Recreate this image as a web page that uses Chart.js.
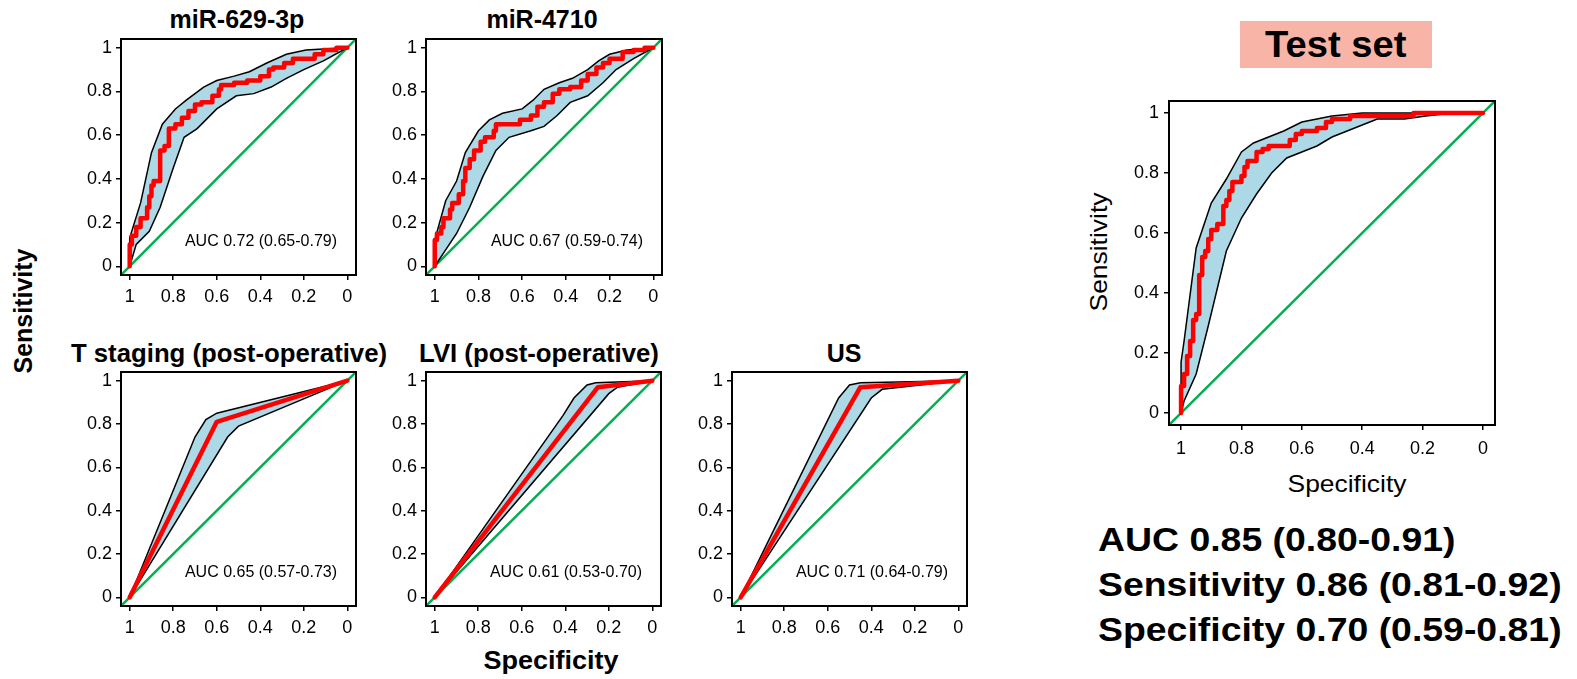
<!DOCTYPE html>
<html>
<head>
<meta charset="utf-8">
<script src="https://cdn.jsdelivr.net/npm/chart.js@4"></script>
<style>
  body { margin: 0; background: #fff; width: 1577px; height: 679px; position: relative; overflow: hidden;
         font-family: "Liberation Sans", Arial, sans-serif; }
  canvas { position: absolute; }
  .t { position: absolute; white-space: nowrap; line-height: 1; color: #000; }
  .b { font-weight: bold; }
  .c { transform: translateX(-50%); }
  .rot { transform: translate(-50%, -50%) rotate(-90deg); }
</style>
</head>
<body>

<div class="t b c" style="left:237px;top:7px;font-size:25px">miR-629-3p</div>
<div class="t b c" style="left:542px;top:7px;font-size:25px">miR-4710</div>
<div class="t b c" style="left:229px;top:341px;font-size:25px;transform:translateX(-50%) scaleX(1.03)">T staging (post-operative)</div>
<div class="t b c" style="left:539px;top:341px;font-size:25px;transform:translateX(-50%) scaleX(1.03)">LVI (post-operative)</div>
<div class="t b c" style="left:844px;top:341px;font-size:25px">US</div>
<div class="t b rot" style="left:23px;top:311px;font-size:25px">Sensitivity</div>
<div class="t b c" style="left:551px;top:648px;font-size:25px;transform:translateX(-50%) scaleX(1.08)">Specificity</div>

<div class="t b" style="left:1240px;top:21px;width:192px;height:47px;line-height:47px;text-align:center;background:#f8b5a7;font-size:36px"><span style="display:inline-block;transform:scaleX(1.06)">Test set</span></div>
<div class="t" style="left:1099px;top:252px;font-size:24px;transform:translate(-50%,-50%) rotate(-90deg) scaleX(1.1)">Sensitivity</div>
<div class="t c" style="left:1347px;top:472px;font-size:24px;transform:translateX(-50%) scaleX(1.1)">Specificity</div>
<div class="t b" style="left:1098px;top:522px;font-size:34px;transform-origin:left;transform:scaleX(1.1)">AUC 0.85 (0.80-0.91)</div>
<div class="t b" style="left:1098px;top:567px;font-size:34px;transform-origin:left;transform:scaleX(1.1)">Sensitivity 0.86 (0.81-0.92)</div>
<div class="t b" style="left:1098px;top:612px;font-size:34px;transform-origin:left;transform:scaleX(1.1)">Specificity 0.70 (0.59-0.81)</div>

<canvas id="c1"></canvas>
<canvas id="c2"></canvas>
<canvas id="c3"></canvas>
<canvas id="c4"></canvas>
<canvas id="c5"></canvas>
<canvas id="c6"></canvas>

<script>
// axis ticks (specificity runs 1 -> 0)
const tickVals = [0, 0.2, 0.4, 0.6, 0.8, 1];
const tickText = ['0', '0.2', '0.4', '0.6', '0.8', '1'];
const diagLine = [[1.04, -0.04], [-0.04, 1.04]];

// [specificity, sensitivity] pairs
const mir629Roc = [[1,0],[1,0.05],[0.99,0.1],[0.97,0.14],[0.95,0.18],[0.92,0.22],[0.91,0.27],[0.9,0.32],[0.89,0.37],
  [0.86,0.39],[0.86,0.5],[0.84,0.53],[0.82,0.55],[0.82,0.61],[0.79,0.63],[0.76,0.65],[0.73,0.68],[0.7,0.71],
  [0.67,0.74],[0.62,0.75],[0.59,0.78],[0.58,0.81],[0.52,0.83],[0.46,0.84],[0.4,0.85],[0.36,0.87],[0.34,0.9],
  [0.29,0.91],[0.25,0.93],[0.2,0.95],[0.15,0.95],[0.11,0.97],[0.09,0.99],[0.05,0.99],[0,1]];
const mir629Upper = [[1,0],[1,0.13],[0.95,0.29],[0.9,0.52],[0.85,0.65],[0.79,0.72],[0.74,0.76],[0.66,0.82],
  [0.6,0.85],[0.52,0.87],[0.45,0.89],[0.37,0.93],[0.28,0.97],[0.19,0.99],[0.09,0.995],[0,1]];
const mir629Lower = [[1,0],[0.97,0.1],[0.91,0.16],[0.86,0.27],[0.8,0.45],[0.75,0.59],[0.69,0.63],[0.6,0.72],
  [0.51,0.78],[0.43,0.79],[0.35,0.82],[0.28,0.86],[0.2,0.9],[0.11,0.94],[0,1]];

const mir4710Roc = [[1,0],[1,0.09],[0.99,0.12],[0.97,0.15],[0.96,0.18],[0.93,0.22],[0.92,0.26],[0.89,0.29],
  [0.87,0.33],[0.86,0.39],[0.84,0.45],[0.82,0.49],[0.79,0.53],[0.77,0.57],[0.73,0.59],[0.72,0.62],[0.67,0.65],
  [0.61,0.65],[0.56,0.67],[0.53,0.69],[0.5,0.73],[0.46,0.75],[0.43,0.79],[0.38,0.81],[0.33,0.82],[0.3,0.85],
  [0.26,0.88],[0.23,0.91],[0.2,0.93],[0.14,0.95],[0.09,0.98],[0.04,0.99],[0,1]];
const mir4710Upper = [[1,0],[1,0.12],[0.95,0.3],[0.9,0.39],[0.86,0.52],[0.8,0.62],[0.75,0.67],[0.69,0.7],
  [0.6,0.72],[0.55,0.76],[0.5,0.81],[0.43,0.84],[0.37,0.86],[0.3,0.9],[0.25,0.94],[0.2,0.97],[0.12,0.99],[0,1]];
const mir4710Lower = [[1,0],[0.96,0.06],[0.9,0.15],[0.84,0.27],[0.78,0.41],[0.72,0.53],[0.66,0.59],[0.56,0.62],
  [0.5,0.64],[0.44,0.69],[0.38,0.75],[0.3,0.78],[0.23,0.84],[0.17,0.9],[0.09,0.95],[0,1]];

const tStageRoc = [[1,0],[0.6,0.81],[0,1]];
const tStageUpper = [[1,0],[0.7,0.74],[0.65,0.82],[0.6,0.85],[0,1]];
const tStageLower = [[1,0],[0.55,0.74],[0.5,0.79],[0,1]];

const lviRoc = [[1,0],[0.25,0.97],[0,1]];
const lviUpper = [[1,0],[0.41,0.84],[0.36,0.92],[0.3,0.98],[0.26,0.99],[0,1]];
const lviLower = [[1,0],[0.2,0.94],[0.16,0.97],[0,1]];

const usRoc = [[1,0],[0.45,0.97],[0,1]];
const usUpper = [[1,0],[0.55,0.92],[0.5,0.98],[0.45,0.99],[0,1]];
const usLower = [[1,0],[0.4,0.92],[0.35,0.96],[0,1]];

const testRoc = [[1,0],[1,0.06],[0.99,0.09],[0.99,0.12],[0.98,0.13],[0.97,0.19],[0.96,0.24],[0.95,0.31],
  [0.94,0.33],[0.94,0.4],[0.93,0.46],[0.92,0.52],[0.91,0.54],[0.9,0.58],[0.88,0.61],[0.86,0.63],[0.85,0.69],
  [0.84,0.71],[0.83,0.74],[0.8,0.77],[0.79,0.79],[0.78,0.82],[0.75,0.84],[0.73,0.87],[0.71,0.88],[0.69,0.89],
  [0.64,0.89],[0.62,0.91],[0.6,0.93],[0.55,0.94],[0.52,0.95],[0.5,0.97],[0.44,0.98],[0.42,0.99],[0.38,0.99],
  [0.23,0.99],[0.21,1],[0,1]];
const testUpper = [[1,0],[1,0.17],[0.99,0.24],[0.95,0.55],[0.9,0.7],[0.85,0.78],[0.8,0.87],[0.76,0.9],
  [0.66,0.94],[0.6,0.97],[0.55,0.98],[0.5,0.99],[0.4,1],[0,1]];
const testLower = [[1,0],[0.99,0.04],[0.95,0.13],[0.91,0.29],[0.85,0.54],[0.8,0.65],[0.75,0.73],[0.7,0.8],
  [0.65,0.85],[0.6,0.87],[0.55,0.89],[0.5,0.92],[0.45,0.94],[0.4,0.96],[0.35,0.98],[0.26,0.98],[0.19,0.99],
  [0.1,1],[0,1]];

const pts = arr => arr.map(([x, y]) => ({x, y}));

// frame round the plot + AUC note
const boxPlugin = {
  id: 'box',
  afterDraw(chart, args, opts) {
    const {ctx, chartArea: a} = chart;
    ctx.save();
    ctx.strokeStyle = '#000';
    ctx.lineWidth = 2;
    ctx.strokeRect(a.left, a.top, a.right - a.left, a.bottom - a.top);
    if (opts.auc) {
      ctx.font = '16px "Liberation Sans", Arial, sans-serif';
      ctx.fillStyle = '#000';
      ctx.textAlign = 'right';
      ctx.textBaseline = 'middle';
      ctx.fillText(opts.auc, a.right - 19, a.bottom - 33);
    }
    ctx.restore();
  }
};

function rocChart(id, box, roc, upper, lower, auc, stepped, big) {
  const yw = big ? 75 : 55, xh = big ? 45 : 40, pt = 16, pr = 16;
  const cv = document.getElementById(id);
  cv.width = yw + box.r - box.l + pr;
  cv.height = pt + box.b - box.t + xh;
  cv.style.left = (box.l - yw) + 'px';
  cv.style.top = (box.t - pt) + 'px';

  const font = {family: '"Liberation Sans", Arial, sans-serif', size: 18};
  const grid = {drawOnChartArea: false, drawTicks: true, tickLength: 5, color: '#000', lineWidth: 1.5};
  const setTicks = s => { s.ticks = tickVals.map(v => ({value: v})); };
  const label = v => tickText[Math.round(v * 5)];

  new Chart(cv, {
    type: 'line',
    data: {
      datasets: [
        {data: pts(roc), borderColor: '#ff0000', borderWidth: 4.5, stepped: stepped ? 'after' : false,
         borderJoinStyle: 'round', borderCapStyle: 'round'},
        {data: pts(upper), borderColor: '#000', borderWidth: 1.5, fill: '+1', backgroundColor: '#add8e6'},
        {data: pts(lower), borderColor: '#000', borderWidth: 1.5},
        {data: pts(diagLine), borderColor: '#00b050', borderWidth: 2.5}
      ]
    },
    options: {
      responsive: false,
      animation: false,
      devicePixelRatio: 1,
      layout: {padding: {top: pt, right: pr, left: 0, bottom: 0}},
      elements: {point: {radius: 0}, line: {tension: 0}},
      scales: {
        x: {
          type: 'linear', reverse: true, min: -0.04, max: 1.04,
          afterBuildTicks: setTicks,
          afterFit: s => { s.height = xh; },
          grid: grid, border: {display: false},
          ticks: {callback: label, font: font, color: '#000', padding: big ? 8 : 6, autoSkip: false, maxRotation: 0}
        },
        y: {
          type: 'linear', min: -0.04, max: 1.04,
          afterBuildTicks: setTicks,
          afterFit: s => { s.width = yw; },
          grid: grid, border: {display: false},
          ticks: {callback: label, font: font, color: '#000', padding: big ? 5 : 4, autoSkip: false}
        }
      },
      plugins: {
        legend: {display: false},
        tooltip: {enabled: false},
        filler: {drawTime: 'beforeDatasetsDraw'},
        box: {auc: auc}
      }
    },
    plugins: [boxPlugin]
  });
}

rocChart('c1', {l: 121, t: 39, r: 356, b: 275}, mir629Roc, mir629Upper, mir629Lower, 'AUC 0.72 (0.65-0.79)', true);
rocChart('c2', {l: 426, t: 39, r: 662, b: 275}, mir4710Roc, mir4710Upper, mir4710Lower, 'AUC 0.67 (0.59-0.74)', true);
rocChart('c3', {l: 121, t: 372, r: 356, b: 606}, tStageRoc, tStageUpper, tStageLower, 'AUC 0.65 (0.57-0.73)', false);
rocChart('c4', {l: 426, t: 372, r: 661, b: 606}, lviRoc, lviUpper, lviLower, 'AUC 0.61 (0.53-0.70)', false);
rocChart('c5', {l: 732, t: 372, r: 967, b: 606}, usRoc, usUpper, usLower, 'AUC 0.71 (0.64-0.79)', false);
rocChart('c6', {l: 1169, t: 101, r: 1495, b: 425}, testRoc, testUpper, testLower, '', true, true);
</script>
</body>
</html>
